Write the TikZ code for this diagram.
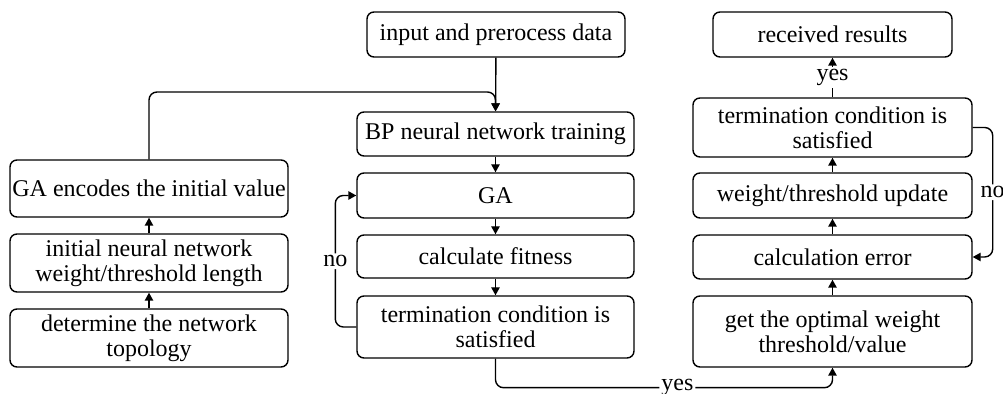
\documentclass[tikz,border=0pt]{standalone}
\usepackage{fontspec}
\setmainfont{Liberation Serif}
\usetikzlibrary{arrows.meta}

\tikzset{
  box/.style={draw, line width=0.7pt, rounded corners=3.5pt, align=center,
    inner sep=0pt, minimum width=139pt, font=\fontsize{12}{12.5}\selectfont},
  arr/.style={line width=0.7pt, -{Triangle[length=4pt,width=4.2pt]}},
  lbl/.style={fill=white, inner sep=1pt, font=\fontsize{12}{12}\selectfont},
}

\begin{document}
\begin{tikzpicture}[x=0.5pt, y=-0.5pt]
\useasboundingbox (0,0) rectangle (1003,394);

% left column
\node[box, minimum height=28.5pt] (enc) at (149,188.5) {GA encodes the initial value};
\node[box, minimum height=29pt] (init) at (149,263) {initial neural network\\weight/threshold length};
\node[box, minimum height=29pt] (topo) at (149,338) {determine the network\\topology};

% middle column
\node[box, minimum width=129pt, minimum height=22.5pt] (input) at (496,34.5) {input and prerocess data};
\node[box, minimum width=138.5pt, minimum height=22pt] (bp) at (495.5,134) {BP neural network training};
\node[box, minimum width=138.5pt, minimum height=22.5pt] (ga) at (495.5,195.5) {GA};
\node[box, minimum width=138.5pt, minimum height=21.5pt] (fit) at (495.5,256.5) {calculate fitness};
\node[box, minimum width=138.5pt, minimum height=31pt] (term) at (495.5,327) {termination condition is\\satisfied};

% right column
\node[box, minimum width=119.5pt, minimum height=22.5pt] (res) at (832.5,34.5) {received results};
\node[box, minimum width=139.5pt, minimum height=29.5pt] (rterm) at (832.5,127.5) {termination condition is\\satisfied};
\node[box, minimum width=139.5pt, minimum height=22.5pt] (upd) at (832.5,195.5) {weight/threshold update};
\node[box, minimum width=139.5pt, minimum height=22pt] (err) at (832.5,257) {calculation error};
\node[box, minimum width=139.5pt, minimum height=35.5pt] (opt) at (832.5,331.5) {get the optimal weight\\threshold/value};

% left column, bottom up
\draw[arr] (topo) -- (init);
\draw[arr] (init) -- (enc);
\draw[arr, rounded corners=4pt] (enc.north) |- (495.5,92) -- (bp.north);

% middle column
\draw[arr] (input) -- (bp);
\draw[arr] (bp) -- (ga);
\draw[arr] (ga) -- (fit);
\draw[arr] (fit) -- (term);
\draw[arr, rounded corners=4pt] (term.west) -- ++(-21,0) |- (ga.west) node[lbl, pos=0.25] {no};
\draw[arr, rounded corners=4pt] (term.south) -- ++(0,29) -| (opt.south) node[lbl, pos=0.27] {yes};

% right column
\draw[arr] (opt) -- (err);
\draw[arr] (err) -- (upd);
\draw[arr] (upd) -- (rterm);
\draw[arr] (rterm) -- node[lbl] {yes} (res);
\draw[arr, rounded corners=4pt] (rterm.east) -- ++(20,0) |- (err.east) node[lbl, pos=0.25] {no};

\end{tikzpicture}
\end{document}
